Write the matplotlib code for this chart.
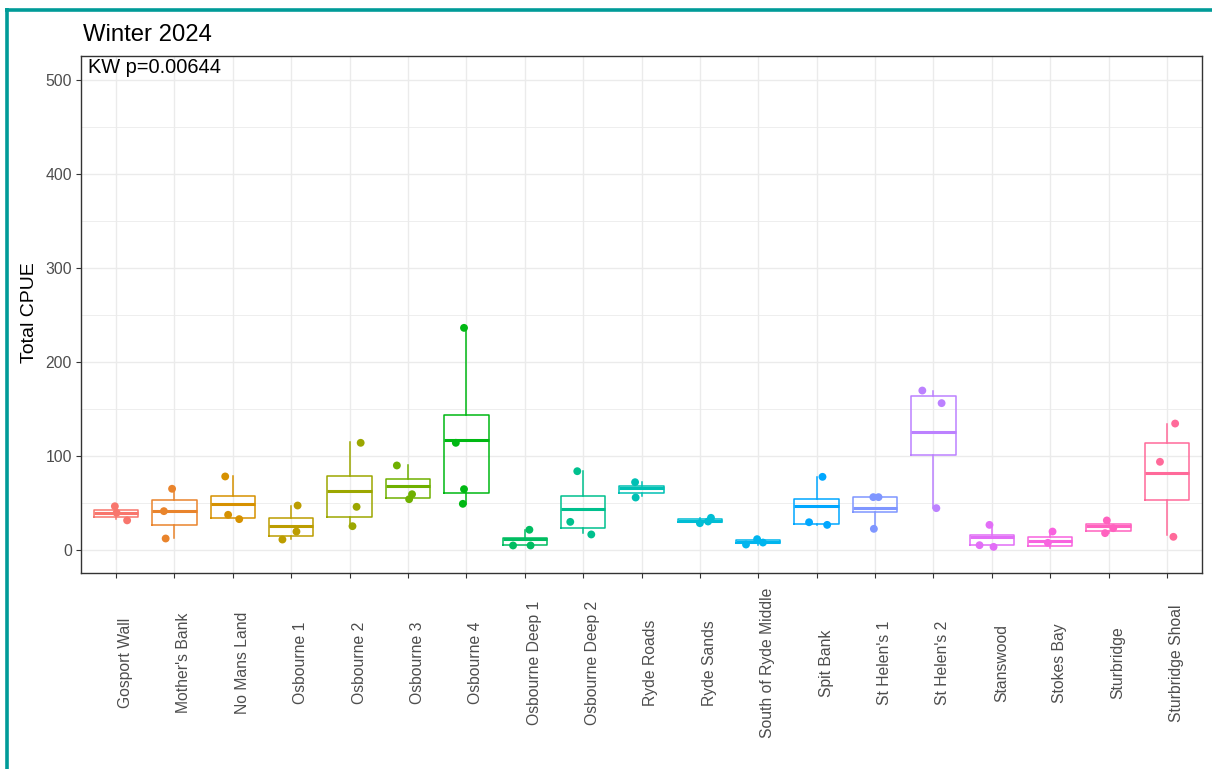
import numpy as np
import matplotlib
matplotlib.use("Agg")
import matplotlib.pyplot as plt
from matplotlib.lines import Line2D
from matplotlib.transforms import blended_transform_factory, offset_copy

# ---- data -------------------------------------------------------------
sites = ["Gosport Wall", "Mother's Bank", "No Mans Land", "Osbourne 1", "Osbourne 2",
         "Osbourne 3", "Osbourne 4", "Osbourne Deep 1", "Osbourne Deep 2", "Ryde Roads",
         "Ryde Sands", "South of Ryde Middle", "Spit Bank", "St Helen's 1", "St Helen's 2",
         "Stanswood", "Stokes Bay", "Sturbridge", "Sturbridge Shoal"]

# box summaries: lower whisker, Q1, median, Q3, upper whisker
box_lo  = [32.5, 12.0, 33.3, 11.3, 24.8, 55.3, 48.6, 4.3, 17.4, 57.0,
           28.0, 5.3, 26.2, 22.0, 44.0, 3.0, 2.1, 17.4, 14.9]
box_q1  = [35.0, 26.5, 33.3, 14.6, 34.8, 55.3, 60.0, 4.3, 23.0, 59.6,
           29.0, 7.1, 27.3, 39.7, 101.0, 4.3, 3.9, 20.2, 52.8]
box_med = [39.0, 40.5, 48.6, 25.5, 62.0, 68.0, 116.0, 11.0, 43.3, 65.5,
           30.5, 7.8, 46.0, 44.3, 124.5, 13.5, 8.9, 24.5, 81.2]
box_q3  = [42.5, 52.5, 57.0, 33.7, 78.7, 74.5, 143.6, 12.0, 57.0, 67.4,
           32.6, 9.6, 53.9, 55.7, 163.0, 14.9, 13.5, 26.6, 113.5]
box_hi  = [46.0, 62.0, 77.7, 46.8, 114.0, 89.4, 235.8, 21.0, 83.3, 71.6,
           33.7, 11.0, 77.5, 55.7, 169.0, 26.2, 19.1, 30.9, 133.7]

# individual CPUE observations per site
point_values = [
    [46.0, 39.0, 31.0],
    [64.6, 40.8, 11.7],
    [77.7, 36.9, 32.3],
    [46.8, 19.1, 10.6],
    [113.5, 45.4, 24.8],
    [89.4, 58.8, 53.5],
    [235.8, 113.5, 64.2, 48.6],
    [21.0, 4.3, 4.3],
    [83.3, 29.4, 16.0],
    [71.6, 55.3],
    [28.0, 29.8, 33.7],
    [5.3, 11.0, 7.4],
    [77.3, 29.0, 26.2],
    [22.0, 55.7, 55.7],
    [169.1, 155.7, 44.0],
    [26.2, 4.6, 2.8],
    [19.1, 7.1],
    [30.9, 17.4, 22.7],
    [134.0, 93.3, 13.5],
]
# horizontal jitter of each observation (category units)
point_jitter = [
    [-0.02, 0.01, 0.19],
    [-0.04, -0.18, -0.15],
    [-0.13, -0.08, 0.11],
    [0.11, 0.09, -0.15],
    [0.19, 0.12, 0.05],
    [-0.19, 0.07, 0.02],
    [-0.04, -0.18, -0.04, -0.06],
    [0.08, -0.20, 0.10],
    [-0.10, -0.22, 0.14],
    [-0.11, -0.10],
    [0.00, 0.14, 0.19],
    [-0.21, -0.02, 0.08],
    [0.10, -0.13, 0.18],
    [-0.02, -0.03, 0.06],
    [-0.19, 0.14, 0.05],
    [-0.04, -0.21, 0.03],
    [0.04, -0.04],
    [-0.03, -0.06, 0.08],
    [0.14, -0.12, 0.11],
]

title = "Winter 2024"
annotation = "KW p=0.00644"
y_label = "Total CPUE"
y_ticks = [0, 100, 200, 300, 400, 500]


# ---- ggplot-style hue palette ------------------------------------------
def hcl_hex(h, c=100.0, l=65.0):
    hr = np.deg2rad(h)
    u, v = c * np.cos(hr), c * np.sin(hr)
    Xn, Yn, Zn = 95.047, 100.0, 108.883
    den = Xn + 15 * Yn + 3 * Zn
    un, vn = 4 * Xn / den, 9 * Yn / den
    Y = Yn * ((l + 16) / 116) ** 3
    up, vp = u / (13 * l) + un, v / (13 * l) + vn
    X = 9.0 * Y * up / (4 * vp)
    Z = -X / 3 - 5 * Y + 3 * Y / vp
    X, Y, Z = X / 100, Y / 100, Z / 100
    rgb = np.array([3.240479 * X - 1.537150 * Y - 0.498535 * Z,
                    -0.969256 * X + 1.875992 * Y + 0.041556 * Z,
                    0.055648 * X - 0.204043 * Y + 1.057311 * Z])
    rgb = np.where(rgb <= 0.0031308, 12.92 * rgb, 1.055 * np.abs(rgb) ** (1 / 2.4) - 0.055)
    rgb = np.clip(rgb, 0, 1)
    return "#%02x%02x%02x" % tuple(int(round(x * 255)) for x in rgb)


n = len(sites)
colors = [hcl_hex(15 + 360.0 * i / n) for i in range(n)]

# ---- figure -------------------------------------------------------------
plt.rcParams["font.family"] = ["Liberation Sans", "DejaVu Sans"]
fig = plt.figure(figsize=(12.12, 7.69), dpi=100)
W, H = 1212, 769
ax = fig.add_axes([81 / W, 1 - 573 / H, (1202 - 81) / W, (573 - 56) / H])

positions = np.arange(n)
stats = [dict(whislo=box_lo[i], q1=box_q1[i], med=box_med[i], q3=box_q3[i],
              whishi=box_hi[i], fliers=[]) for i in range(n)]
for i in range(n):
    c = colors[i]
    ax.bxp([stats[i]], positions=[i], widths=0.76, showcaps=False, showfliers=False,
           boxprops=dict(color=c, linewidth=1.1),
           whiskerprops=dict(color=c, linewidth=1.1),
           medianprops=dict(color=c, linewidth=2.2, solid_capstyle="butt"),
           manage_ticks=False, zorder=3)
    xs = i + np.array(point_jitter[i])
    ax.scatter(xs, point_values[i], s=32, color=c, edgecolors="none", zorder=4)

ax.set_xlim(-0.6, n - 1 + 0.6)
ax.set_ylim(-25, 525)

# grid
ax.set_axisbelow(True)
ax.set_yticks(y_ticks)
ax.set_yticks([50, 150, 250, 350, 450], minor=True)
ax.set_xticks(positions)
ax.grid(which="major", color="#EBEBEB", linewidth=1.0)
ax.grid(which="minor", axis="y", color="#EBEBEB", linewidth=0.6)
ax.tick_params(axis="y", which="minor", length=0)

ax.set_yticklabels([str(t) for t in y_ticks])
ax.set_xticklabels([])
ax.tick_params(axis="both", which="major", length=3.5, width=0.8, color="#333333",
               labelcolor="#4D4D4D", labelsize=11.3, pad=3)

# category labels: vertical, centred on a common line below the axis
lab_tf = offset_copy(blended_transform_factory(ax.transData, fig.transFigure),
                     fig=fig, x=2, y=0, units="dots")
for i, s in enumerate(sites):
    ax.text(i, 1 - 663 / H, s, transform=lab_tf, rotation=90, ha="left", va="center",
            fontsize=11.3, color="#4D4D4D", clip_on=False)

for s in ax.spines.values():
    s.set_color("#333333")
    s.set_linewidth(1.0)

ax.text((88.3 - 81) / (1202 - 81), (573 - 72.7) / (573 - 56), annotation,
        transform=ax.transAxes, ha="left", va="baseline", fontsize=14.4, color="black")

fig.text(83 / W, 1 - 41 / H, title, ha="left", va="baseline", fontsize=17.2, color="black")
fig.text(30 / W, 1 - 313 / H, y_label, rotation=90, ha="center", va="center",
         fontsize=14, color="black")

# teal frame along the top and left edges
teal = "#009B98"
fig.add_artist(Line2D([5 / W, 1.0], [1 - 9.7 / H, 1 - 9.7 / H], transform=fig.transFigure,
                      color=teal, linewidth=2.6, solid_capstyle="butt"))
fig.add_artist(Line2D([7 / W, 7 / W], [0.0, 1 - 8.4 / H], transform=fig.transFigure,
                      color=teal, linewidth=2.6, solid_capstyle="butt"))

fig.savefig("out.png", dpi=100, facecolor="white")
